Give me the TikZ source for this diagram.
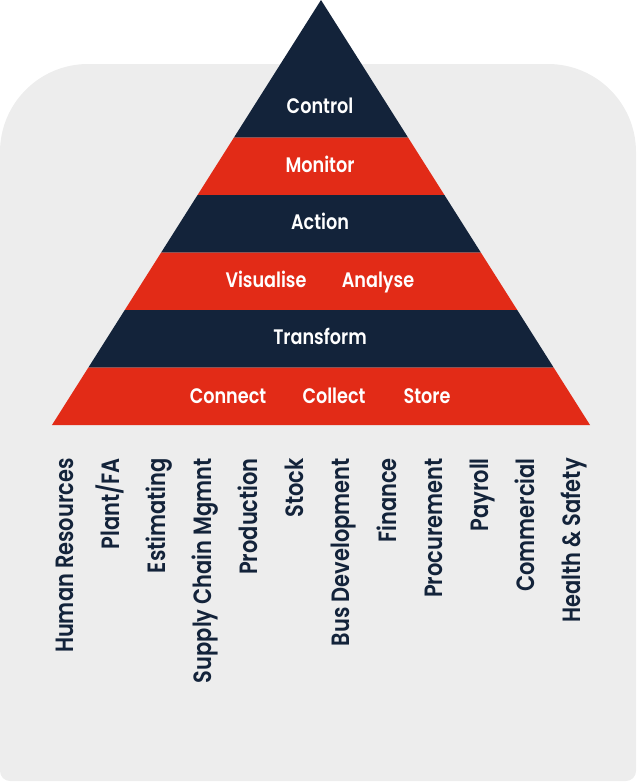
\documentclass[tikz,border=0pt]{standalone}
\usepackage{fontspec}
\newfontfamily\lblfont{Poppins}[UprightFont=* SemiBold, FakeStretch=0.84]
\definecolor{navy}{RGB}{19,35,58}
\definecolor{firered}{RGB}{226,43,23}
\definecolor{bggray}{RGB}{237,237,237}

\begin{document}
\begin{tikzpicture}[x=1pt, y=-1pt, font=\lblfont,
		bandlbl/.style={white, inner sep=0pt, anchor=base, font=\lblfont\fontsize{21}{21}\selectfont},
		deptlbl/.style={navy, inner sep=0pt, rotate=90, anchor=base east, font=\lblfont\fontsize{25}{25}\selectfont}]
	\useasboundingbox (0,0) rectangle (637,782);
	%Hintergrund
	\fill[bggray] (0,400) [rounded corners=88pt] -- (0,64) -- (636,64) -- (636,400) [rounded corners=10pt] -- (636,781) -- (0,781) -- cycle;
	%Pyramide, Schichten von oben nach unten
	\foreach \ya/\yb/\col in {0/137.5/navy, 137.5/195/firered, 195/252.5/navy, 252.5/310/firered, 310/367.5/navy, 367.5/425/firered}
		\fill[\col] ({321-0.633*\ya},\ya) -- ({321+0.633*\ya},\ya) -- ({321+0.633*\yb},\yb) -- ({321-0.633*\yb},\yb) -- cycle;
	%Beschriftung der Schichten
	\node[bandlbl] (control) at (320,113) {Control};
	\node[bandlbl] (monitor) at (320,172) {Monitor};
	\node[bandlbl] (action) at (320,229) {Action};
	\node[bandlbl] (visualise) at (266,287) {Visualise};
	\node[bandlbl] (analyse) at (378,287) {Analyse};
	\node[bandlbl] (transform) at (320,344) {Transform};
	\node[bandlbl] (connect) at (228,403) {Connect};
	\node[bandlbl] (collect) at (334,403) {Collect};
	\node[bandlbl] (store) at (427,403) {Store};
	%Bereiche
	\foreach \lbl [count=\i from 0] in {Human Resources, Plant/FA, Estimating, Supply Chain Mgmnt, Production, Stock, Bus Development, Finance, Procurement, Payroll, Commercial, Health \& Safety}
		\node[deptlbl] (dept\i) at ({73+46.15*\i},458) {\lbl};
\end{tikzpicture}
\end{document}
